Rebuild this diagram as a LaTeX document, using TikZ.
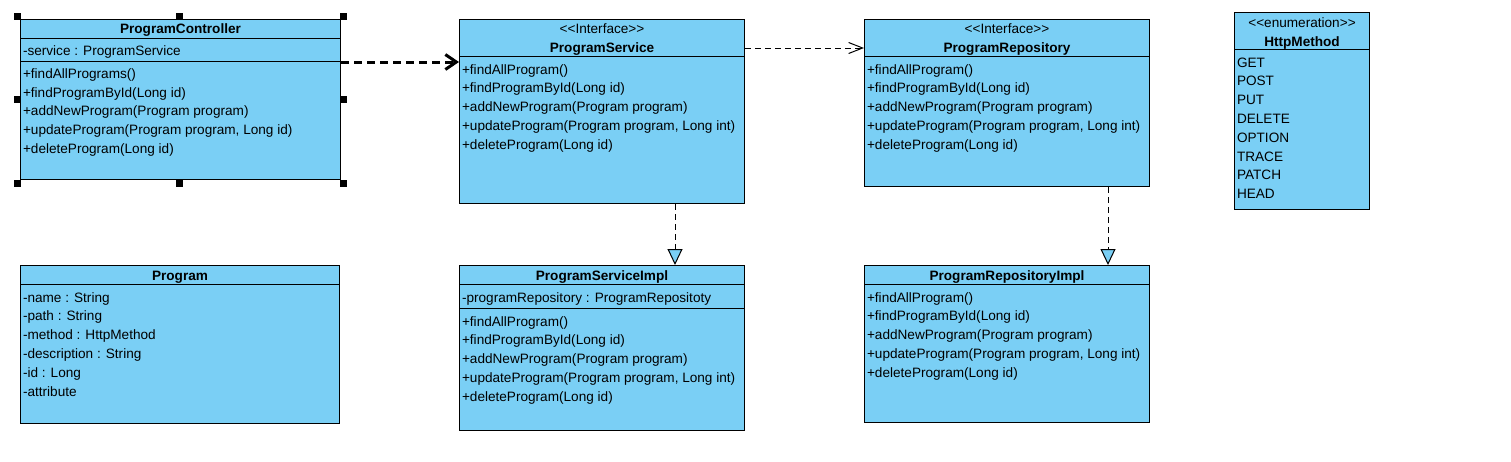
\documentclass[tikz,border=0pt]{standalone}
\usepackage{fontspec}
\newfontfamily\umlfont{Liberation Sans}
\usetikzlibrary{arrows.meta}
\definecolor{clsblue}{RGB}{122,207,245}

\begin{document}
\begin{tikzpicture}[x=1pt,y=-1pt,line width=1pt,
 font=\umlfont\fontsize{13.6}{18.8}\selectfont,
 cls/.style={draw,fill=clsblue,anchor=north west,inner sep=0pt},
 ttl/.style={anchor=base,inner sep=0pt,font=\umlfont\bfseries\fontsize{13.6}{18.8}\selectfont},
 stereo/.style={anchor=base,inner sep=0pt},
 txt/.style={anchor=base west,align=left,inner sep=0pt},
 calldep/.style={line width=3pt,dash pattern=on 8pt off 5pt,-{Straight Barb[length=11pt,width=15pt,line width=3pt]}},
 usedep/.style={dash pattern=on 6pt off 4pt,-{Straight Barb[length=14pt,width=11pt]}},
 realize/.style={dash pattern=on 6pt off 4pt,-{Triangle[length=16pt,width=15pt,fill=clsblue]}}]
\fill[white] (0,0) rectangle (1511,461);
\useasboundingbox (0,0) rectangle (1511,461);
% classes
\node[cls,minimum width=320pt,minimum height=160pt] (ctrl) at (20,19) {};
\node[cls,minimum width=285pt,minimum height=184pt] (svc) at (459,19) {};
\node[cls,minimum width=285pt,minimum height=167pt] (repo) at (864,19) {};
\node[cls,minimum width=135pt,minimum height=197pt] (http) at (1234,12) {};
\node[cls,minimum width=319pt,minimum height=158pt] (prog) at (20,265) {};
\node[cls,minimum width=285pt,minimum height=165pt] (svcimpl) at (459,265) {};
\node[cls,minimum width=285pt,minimum height=157pt] (repoimpl) at (864,265) {};
% compartments
\draw (ctrl.west |- 0,38) -- (ctrl.east |- 0,38);
\draw (ctrl.west |- 0,61) -- (ctrl.east |- 0,61);
\draw (svc.west |- 0,56.7) -- (svc.east |- 0,56.7);
\draw (repo.west |- 0,56.7) -- (repo.east |- 0,56.7);
\draw (http.west |- 0,49.3) -- (http.east |- 0,49.3);
\draw (prog.west |- 0,284) -- (prog.east |- 0,284);
\draw (svcimpl.west |- 0,284.3) -- (svcimpl.east |- 0,284.3);
\draw (svcimpl.west |- 0,308.7) -- (svcimpl.east |- 0,308.7);
\draw (repoimpl.west |- 0,284) -- (repoimpl.east |- 0,284);
% lists are placed by the baseline of their last line
% ProgramController
\node[ttl] (ctrlname) at (ctrl.north |- 0,33.5) {ProgramController};
\node[txt] (ctrlattr) at (22.5,55) {-service : ProgramService};
\node[txt] (ctrlops) at (22.5,153.5) {+findAllPrograms()\\+findProgramById(Long id)\\+addNewProgram(Program program)\\+updateProgram(Program program, Long id)\\+deleteProgram(Long id)};
% ProgramService
\node[stereo] (svcst) at (svc.north |- 0,33) {<<Interface>>};
\node[ttl] (svcname) at (svc.north |- 0,52.5) {ProgramService};
\node[txt] (svcops) at (461.5,149.2) {+findAllProgram()\\+findProgramById(Long id)\\+addNewProgram(Program program)\\+updateProgram(Program program, Long int)\\+deleteProgram(Long id)};
% ProgramRepository
\node[stereo] (repost) at (repo.north |- 0,33) {<<Interface>>};
\node[ttl] (reponame) at (repo.north |- 0,52.5) {ProgramRepository};
\node[txt] (repoops) at (866.5,149.2) {+findAllProgram()\\+findProgramById(Long id)\\+addNewProgram(Program program)\\+updateProgram(Program program, Long int)\\+deleteProgram(Long id)};
% HttpMethod
\node[stereo] (httpst) at (http.north |- 0,27) {<<enumeration>>};
\node[ttl] (httpname) at (http.north |- 0,46) {HttpMethod};
\node[txt] (httpvals) at (1236.5,198.6) {GET\\POST\\PUT\\DELETE\\OPTION\\TRACE\\PATCH\\HEAD};
% Program
\node[ttl] (progname) at (prog.north |- 0,280.5) {Program};
\node[txt] (progattr) at (22.5,396) {-name : String\\-path : String\\-method : HttpMethod\\-description : String\\-id : Long\\-attribute};
% ProgramServiceImpl
\node[ttl] (svcimplname) at (svcimpl.north |- 0,280.5) {ProgramServiceImpl};
\node[txt] (svcimplattr) at (461.5,302) {-programRepository : ProgramRepositoty};
\node[txt] (svcimplops) at (461.5,401.2) {+findAllProgram()\\+findProgramById(Long id)\\+addNewProgram(Program program)\\+updateProgram(Program program, Long int)\\+deleteProgram(Long id)};
% ProgramRepositoryImpl
\node[ttl] (repoimplname) at (repoimpl.north |- 0,280.5) {ProgramRepositoryImpl};
\node[txt] (repoimplops) at (866.5,377.2) {+findAllProgram()\\+findProgramById(Long id)\\+addNewProgram(Program program)\\+updateProgram(Program program, Long int)\\+deleteProgram(Long id)};
% relations
\draw[calldep] (ctrl.east |- 0,62) -- (svc.west |- 0,62);
\draw[usedep] (svc.east |- 0,48) -- (repo.west |- 0,48);
\draw[realize] ([xshift=73pt]svc.south) -- ([xshift=73pt]svcimpl.north);
\draw[realize] ([xshift=101pt]repo.south) -- ([xshift=101pt]repoimpl.north);
% selection handles
\foreach \hx/\hy in {17/16,179.5/16,343/16,17/99,343/99,17/183,179.5/183,343/183}
  \fill (\hx-3.5,\hy-3.5) rectangle (\hx+3.5,\hy+3.5);
\end{tikzpicture}
\end{document}
